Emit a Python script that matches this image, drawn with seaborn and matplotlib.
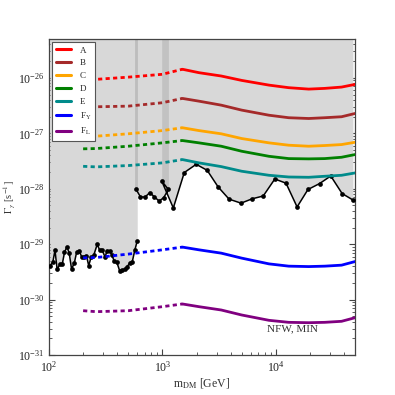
import numpy as np
import pandas as pd
import matplotlib
matplotlib.use("Agg")
import matplotlib.pyplot as plt
import seaborn as sns
from matplotlib.lines import Line2D

# masses [GeV] for the model curves
masses = [200, 260, 500, 1000, 1500, 2100, 3300, 5000, 8700, 13000, 19500, 27000, 38000, 50000]
split_mass = 1500  # dotted below, solid above

curve_a = [9.2e-27, 9.4e-27, 1.03e-26, 1.16e-26, 1.43e-26, 1.24e-26, 1.08e-26, 9.0e-27,
           7.4e-27, 6.65e-27, 6.27e-27, 6.46e-27, 6.82e-27, 7.63e-27]
curve_b = [2.99e-27, 3.01e-27, 3.09e-27, 3.56e-27, 4.26e-27, 3.80e-27, 3.22e-27, 2.62e-27,
           2.12e-27, 1.91e-27, 1.85e-27, 1.91e-27, 1.99e-27, 2.28e-27]
curve_c = [8.75e-28, 8.87e-28, 9.8e-28, 1.12e-27, 1.26e-27, 1.12e-27, 9.8e-28, 8.05e-28,
           6.73e-28, 6.10e-28, 5.85e-28, 6.02e-28, 6.27e-28, 6.90e-28]
curve_d = [5.25e-28, 5.31e-28, 5.85e-28, 6.73e-28, 7.41e-28, 6.73e-28, 5.85e-28, 4.75e-28,
           3.85e-28, 3.50e-28, 3.46e-28, 3.50e-28, 3.70e-28, 4.14e-28]
curve_e = [2.54e-28, 2.48e-28, 2.62e-28, 2.93e-28, 3.36e-28, 2.93e-28, 2.51e-28, 2.07e-28,
           1.75e-28, 1.63e-28, 1.61e-28, 1.68e-28, 1.75e-28, 1.93e-28]
curve_fy = [5.68e-30, 5.75e-30, 6.63e-30, 7.92e-30, 8.87e-30, 7.92e-30, 6.90e-30, 5.61e-30,
            4.42e-30, 4.02e-30, 3.95e-30, 4.02e-30, 4.19e-30, 4.87e-30]
curve_fl = [6.32e-31, 6.07e-31, 6.32e-31, 7.47e-31, 8.36e-31, 7.47e-31, 6.51e-31, 5.29e-31,
            4.24e-31, 3.90e-31, 3.84e-31, 3.90e-31, 4.07e-31, 4.73e-31]

labels = ["A", "B", "C", "D", "E", r"F$_\mathrm{Y}$", r"F$_\mathrm{L}$"]
colors = ["#ff0000", "#a52a2a", "#ffa500", "#008000", "#008b8b", "#0000ff", "#800080"]

# observed limits, low mass part
low_m = [102, 108, 113, 118, 125, 131, 137, 144, 151, 158, 167, 175, 185, 194, 203, 214,
         224, 235, 248, 266, 280, 294, 312, 325, 343, 359, 377, 397, 420, 440, 464, 486,
         514, 542, 571, 600]
low_g = [4.1e-30, 4.7e-30, 7.8e-30, 3.5e-30, 4.4e-30, 4.4e-30, 7.1e-30, 9.0e-30, 6.8e-30,
         3.6e-30, 4.5e-30, 7.1e-30, 7.6e-30, 5.9e-30, 5.8e-30, 6.2e-30, 4.1e-30, 5.8e-30,
         6.3e-30, 9.9e-30, 7.8e-30, 7.8e-30, 5.9e-30, 7.5e-30, 7.5e-30, 6.3e-30, 4.9e-30,
         4.7e-30, 3.3e-30, 3.4e-30, 3.5e-30, 3.9e-30, 4.5e-30, 4.8e-30, 7.8e-30, 1.15e-29]

# observed limits, high mass part (not sorted in mass)
high_m = [587, 641, 705, 774, 851, 936, 1026, 1129, 986, 1248, 1559, 1987, 2482, 3098,
          3870, 4933, 6200, 7740, 9800, 12300, 15400, 19200, 24300, 30500, 38400, 48300]
high_g = [9.7e-29, 7.1e-29, 7.1e-29, 8.55e-29, 7.1e-29, 6.0e-29, 6.9e-29, 9.7e-29,
          1.38e-28, 4.5e-29, 1.96e-28, 2.76e-28, 2.15e-28, 1.08e-28, 6.5e-29, 5.5e-29,
          6.6e-29, 7.4e-29, 1.50e-28, 1.26e-28, 4.7e-29, 9.7e-29, 1.24e-28, 1.70e-28,
          8.2e-29, 6.2e-29]

band_m = [986, 1129]
band_lo = [1.38e-28, 9.7e-29]

x_lim = (100, 5e4)
y_lim = (1e-31, 5e-26)


def main():
    sns.set_style("ticks")
    plt.rcParams["font.family"] = ["Liberation Serif", "DejaVu Serif"]
    plt.rcParams["mathtext.fontset"] = "stix"

    fig = plt.figure(figsize=(3.95, 3.95), dpi=100)
    ax = fig.add_axes([0.124, 0.101, 0.775, 0.80])
    ax.set_xscale("log")
    ax.set_yscale("log")

    draw_excluded(ax)
    draw_curves(ax)

    ax.set_xlim(*x_lim)
    ax.set_ylim(*y_lim)
    style_axes(ax)

    fig.savefig("out.png", dpi=100)


def draw_excluded(ax):
    top = y_lim[1]
    gray = "#d8d8d8"
    ax.fill_between(low_m, low_g, top, color=gray, lw=0, zorder=1)
    ax.fill(high_m + [high_m[-1], high_m[0]], high_g + [top, top], color=gray, lw=0, zorder=1)
    ax.fill_between(band_m, band_lo, top, color="#c2c2c2", lw=0, zorder=1.5)
    ax.vlines(high_m[0], high_g[0], top, color="#bdbdbd", lw=2, zorder=1.5)

    sns.lineplot(x=low_m, y=low_g, color="black", lw=1.1, marker="o", markersize=3.4,
                 markeredgewidth=0, sort=False, estimator=None, ax=ax, zorder=3)
    sns.lineplot(x=high_m, y=high_g, color="black", lw=1.1, marker="o", markersize=3.4,
                 markeredgewidth=0, sort=False, estimator=None, ax=ax, zorder=3)


def draw_curves(ax):
    curves = [curve_a, curve_b, curve_c, curve_d, curve_e, curve_fy, curve_fl]
    m = np.array(masses)
    for vals, col in zip(curves, colors):
        v = np.array(vals)
        low = m <= split_mass
        high = m >= split_mass
        sns.lineplot(x=m[low], y=v[low], color=col, lw=2.0, linestyle=(0, (1.5, 1.2)),
                     sort=False, estimator=None, ax=ax, zorder=4)
        sns.lineplot(x=m[high], y=v[high], color=col, lw=2.0,
                     sort=False, estimator=None, ax=ax, zorder=4)

    handles = [Line2D([], [], color=c, lw=2.2) for c in colors]
    leg = ax.legend(handles, labels, loc="upper left", fontsize=6.5, frameon=True,
                    fancybox=False, framealpha=1, edgecolor="#555555",
                    handlelength=1.6, borderaxespad=0.35, labelspacing=0.5,
                    handletextpad=1.0, borderpad=0.45)
    leg.get_frame().set_linewidth(0.8)
    leg.set_zorder(10)


def style_axes(ax):
    for s in ax.spines.values():
        s.set_color("#444444")
        s.set_linewidth(0.9)
    ax.tick_params(which="both", direction="in", top=True, right=True, colors="#444444",
                   labelcolor="#222222")
    ax.tick_params(which="major", length=4, labelsize=8.5)
    ax.tick_params(which="minor", length=2)
    ax.set_yticks([1e-31, 1e-30, 1e-29, 1e-28, 1e-27, 1e-26])
    ax.set_xlabel(r"m$_\mathrm{DM}$ [GeV]", fontsize=8.5, labelpad=1, color="#333333")
    ax.set_ylabel(r"$\Gamma_\gamma$ [s$^{-1}$]", fontsize=7.5, color="#333333")
    ax.yaxis.set_label_coords(-0.105, 0.5)
    ax.text(0.88, 0.075, "NFW, MIN", transform=ax.transAxes, ha="right", fontsize=8,
            color="#333333")


main()
